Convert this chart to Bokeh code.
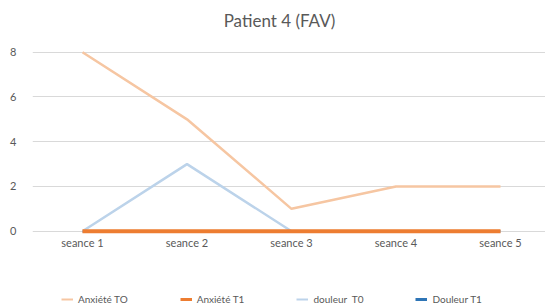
from bokeh.plotting import figure
from bokeh.models import Range1d, FixedTicker, Legend, LegendItem, Label
from bokeh.layouts import column
from bokeh.embed import file_html
from bokeh.resources import INLINE

title_text = "Patient 4 (FAV)"
categories = ["seance 1", "seance 2", "seance 3", "seance 4", "seance 5"]
anxiete_t0 = [8, 5, 1, 2, 2]
anxiete_t1 = [0, 0, 0, 0, 0]
douleur_t0 = [0, 3, 0, 0, 0]
douleur_t1 = [0, 0, 0, 0, 0]
y_ticks = [0, 2, 4, 6, 8]

x = list(range(1, len(categories) + 1))
FONT = "Lato"
TXT = "#595959"
C_A0, C_A1, C_D0, C_D1 = "#f6c6a2", "#ed7d31", "#bcd3ea", "#2e75b6"


def strip(h, y_range):
    f = figure(width=545, height=h, output_backend="svg", toolbar_location=None,
               title=None, x_axis_location=None, y_axis_location=None,
               x_range=Range1d(0, 1), y_range=y_range,
               min_border_left=0, min_border_right=0, min_border_top=0, min_border_bottom=0)
    f.outline_line_color = None
    f.grid.visible = False
    f.border_fill_color = "white"
    return f


# title strip (frames are aligned with the main chart, whose frame starts 32px in)
ts = strip(38, Range1d(0, 1))
ts.add_layout(Label(x=247, y=18, x_units="screen", y_units="screen", text=title_text,
                    text_align="center", text_baseline="middle", text_font=FONT,
                    text_font_size="17px", text_color=TXT))

# main chart
p = figure(width=545, height=224, output_backend="svg", toolbar_location=None, title=None,
           x_range=Range1d(0.5215, 5.4306), y_range=Range1d(-0.147, 8.165),
           min_border_left=32, min_border_right=0, min_border_top=10, min_border_bottom=28)
p.outline_line_color = None
p.border_fill_color = "white"

p.xaxis.ticker = FixedTicker(ticks=x)
p.xaxis.major_label_overrides = {i: c for i, c in zip(x, categories)}
p.yaxis.ticker = FixedTicker(ticks=y_ticks)
for ax in (p.xaxis, p.yaxis):
    ax.axis_line_color = None
    ax.major_tick_line_color = None
    ax.minor_tick_line_color = None
    ax.major_label_text_font = FONT
    ax.major_label_text_font_size = "11px"
    ax.major_label_text_color = TXT
p.yaxis.major_label_standoff = 10
p.xaxis.major_label_standoff = -5
p.xgrid.grid_line_color = None
p.ygrid.grid_line_color = "#d9d9d9"
p.ygrid.grid_line_width = 1

p.line(x, douleur_t1, line_color=C_D1, line_width=2.5)
p.line(x, anxiete_t0, line_color=C_A0, line_width=2.5)
p.line(x, douleur_t0, line_color=C_D0, line_width=2.5)
p.line(x, anxiete_t1, line_color=C_A1, line_width=4)

# legend strip; its lines lie outside its view, only the legend shows
lg = strip(44, Range1d(100, 101))
l_a0 = lg.line(x, anxiete_t0, line_color=C_A0, line_width=2)
l_a1 = lg.line(x, anxiete_t1, line_color=C_A1, line_width=3)
l_d0 = lg.line(x, douleur_t0, line_color=C_D0, line_width=2)
l_d1 = lg.line(x, douleur_t1, line_color=C_D1, line_width=3)

legend = Legend(items=[
    LegendItem(label="Anxiété TO", renderers=[l_a0]),
    LegendItem(label="Anxiété T1", renderers=[l_a1]),
    LegendItem(label="douleur  T0", renderers=[l_d0]),
    LegendItem(label="Douleur T1", renderers=[l_d1]),
], orientation="horizontal", location=(29, 1))
legend.label_text_font = FONT
legend.label_text_font_size = "10px"
legend.label_text_color = TXT
legend.glyph_width = 12
legend.glyph_height = 12
legend.label_height = 12
legend.spacing = 52
legend.label_standoff = 5
legend.border_line_color = None
legend.background_fill_alpha = 0
legend.margin = 0
legend.padding = 0
lg.add_layout(legend)

layout = column(ts, p, lg, spacing=0)
open("out.html", "w").write(file_html(layout, INLINE))
